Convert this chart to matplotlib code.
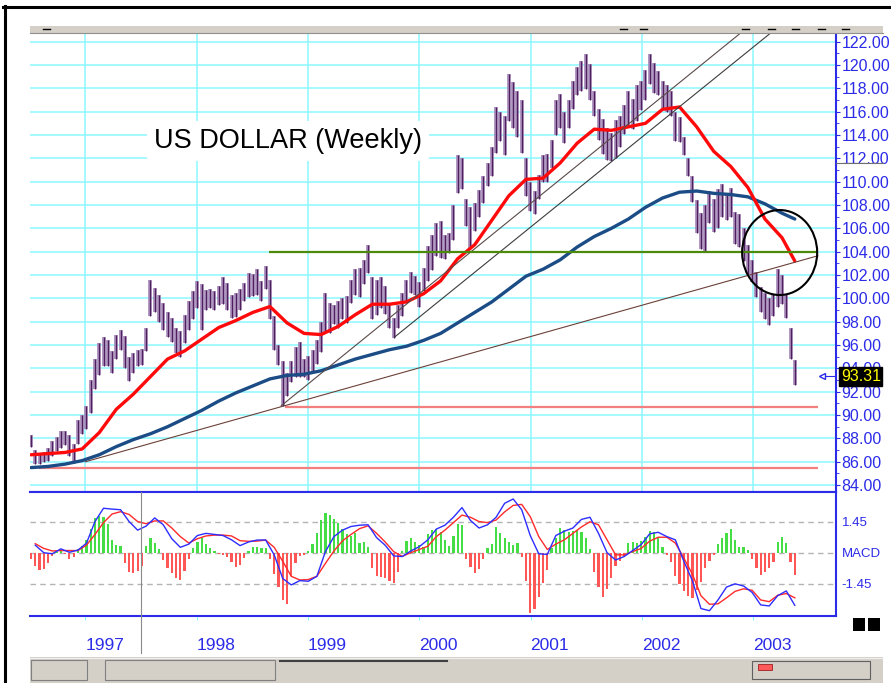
import numpy as np
import matplotlib
matplotlib.use('Agg')
import matplotlib.pyplot as plt
from matplotlib.patches import Ellipse, Rectangle
from matplotlib import font_manager

# fonts: narrow Arial-like for the axis text if present
names = {f.name for f in font_manager.fontManager.ttflist}
narrow = 'Liberation Sans Narrow' if 'Liberation Sans Narrow' in names else 'Liberation Sans'

# ---- data (weekly US dollar index, sampled every 2 weeks) ----
bar_start = 1996.512
bar_step = 14 / 365.25

high = [88.3, 87.0, 86.7, 86.8, 87.2, 87.8, 88.1, 88.6, 88.6, 88.3,
        87.5, 89.6, 90.0, 90.8, 93.0, 94.8, 96.2, 96.7, 96.4, 95.5,
        96.9, 97.3, 96.8, 95.0, 95.3, 95.6, 95.7, 97.5, 101.6, 100.9,
        100.3, 99.6, 98.8, 98.3, 97.5, 97.2, 98.6, 99.8, 100.6, 101.5,
        101.2, 100.7, 100.8, 100.6, 101.1, 101.8, 101.3, 100.3, 100.5, 100.8,
        101.3, 102.2, 102.1, 102.5, 101.5, 102.8, 101.6, 98.5, 96.0, 94.6,
        93.6, 94.6, 95.8, 96.3, 94.8, 95.1, 95.6, 96.4, 98.0, 100.5,
        99.6, 99.4, 99.8, 100.0, 100.2, 101.6, 102.5, 102.6, 103.3, 104.6,
        101.8, 101.6, 101.8, 101.1, 99.6, 98.3, 99.4, 100.5, 101.6, 102.3,
        101.9, 101.4, 102.6, 104.5, 105.4, 106.5, 106.6, 105.4, 105.6, 108.0,
        112.3, 112.0, 108.5, 107.8, 108.2, 109.3, 110.5, 111.6, 113.0, 116.4,
        116.0, 115.6, 119.2, 118.5, 117.8, 117.0, 112.0, 110.0, 109.2, 110.6,
        112.3, 112.4, 113.6, 117.0, 117.5, 116.0, 117.0, 118.6, 119.8, 120.3,
        120.9, 120.1, 117.8, 116.2, 115.4, 114.6, 114.2, 115.3, 115.6, 116.6,
        117.8, 117.1, 118.3, 118.6, 119.6, 120.9, 120.2, 119.5, 118.6, 118.3,
        117.8, 116.0, 115.5, 113.8, 112.0, 110.5, 108.4, 107.3, 108.0, 109.2,
        108.5, 109.4, 109.8, 109.0, 109.5, 107.4, 107.2, 106.0, 104.6, 103.3,
        102.3, 101.0, 100.5, 100.0, 100.4, 102.5, 102.0, 100.4, 97.5, 94.7]

low = [87.3, 85.8, 85.8, 86.0, 86.1, 86.5, 86.9, 87.2, 87.4, 86.5,
       85.9, 87.5, 88.4, 88.8, 90.2, 92.2, 93.4, 94.2, 94.2, 93.6,
       94.8, 95.6, 94.0, 92.9, 93.6, 94.2, 94.3, 95.5, 98.5, 98.8,
       98.0, 97.3, 96.7, 96.3, 95.3, 95.0, 96.2, 97.3, 98.2, 99.2,
       97.3, 99.0, 99.2, 99.0, 99.4, 99.5, 99.0, 98.3, 98.4, 99.0,
       99.8, 100.1, 100.2, 100.3, 99.8, 100.8, 98.2, 95.6, 94.3, 90.8,
       91.6, 92.8, 93.3, 93.3, 93.3, 93.0, 93.6, 94.4, 95.4, 97.0,
       97.0, 97.8, 97.5, 98.2, 97.9, 99.6, 100.3, 100.1, 101.2, 102.2,
       98.2, 98.6, 99.2, 98.7, 97.5, 96.6, 97.5, 98.5, 99.6, 100.5,
       100.3, 99.3, 100.6, 101.5, 102.4, 103.6, 103.5, 103.4, 103.9, 105.0,
       109.0, 109.4, 106.2, 104.3, 105.8, 107.0, 108.2, 109.6, 110.5, 112.5,
       113.5, 112.3, 115.2, 114.6, 113.8, 112.5, 108.8, 107.5, 107.2, 108.5,
       110.0, 110.0, 111.2, 114.0, 114.6, 113.3, 114.6, 116.2, 117.4, 117.8,
       117.9, 117.0, 115.6, 113.6, 112.4, 111.9, 111.8, 112.0, 113.0, 114.1,
       114.8, 114.5, 115.2, 116.1, 117.0, 118.4, 117.6, 117.4, 116.3, 116.0,
       115.6, 113.5, 113.4, 112.3, 110.5, 108.3, 105.6, 104.2, 104.0, 106.5,
       105.7, 106.0, 107.0, 106.7, 107.0, 104.7, 104.4, 103.2, 102.1, 101.4,
       100.1, 98.8, 98.2, 97.7, 98.5, 99.3, 99.5, 98.3, 94.8, 92.6]

last_close = 93.31

# moving averages, read every 8 weeks (plus the last bar)
ma_red = [86.6, 86.7, 86.8, 87.1, 88.5, 90.5, 91.8, 93.3, 94.8, 95.5,
          96.5, 97.5, 98.1, 98.8, 99.3, 97.9, 97.0, 96.9, 97.6, 98.6,
          99.5, 99.5, 99.7, 100.4, 101.5, 103.4, 104.6, 106.7, 108.8, 110.2,
          110.3, 111.6, 113.3, 114.5, 114.4, 114.7, 115.0, 116.2, 116.4, 114.7,
          112.6, 111.3, 109.5, 106.8, 105.2, 103.2]
ma_blue = [85.5, 85.6, 85.8, 86.1, 86.6, 87.3, 87.9, 88.4, 89.0, 89.7,
           90.4, 91.2, 91.9, 92.5, 93.1, 93.4, 93.5, 93.8, 94.3, 94.8,
           95.2, 95.6, 95.9, 96.4, 97.0, 97.9, 98.8, 99.7, 100.8, 101.9,
           102.5, 103.3, 104.4, 105.3, 106.0, 106.8, 107.8, 108.6, 109.1, 109.2,
           109.0, 108.9, 108.7, 108.1, 107.3, 106.8]

# MACD panel
hist = [-0.3, -0.6, -0.8, -0.75, -0.5, -0.15, 0.05, 0.1, -0.05, -0.3,
        -0.2, 0.15, 0.3, 0.6, 1.1, 1.6, 1.7, 1.66, 1.35, 0.6,
        0.36, 0.3, -0.5, -0.88, -0.95, -0.85, -0.6, 0.3, 0.7, 0.45,
        0.15, -0.35, -0.7, -0.95, -1.2, -1.25, -0.85, -0.3, 0.2, 0.5,
        0.7, 0.4, 0.2, 0.08, -0.05, -0.1, -0.2, -0.45, -0.65, -0.55,
        -0.25, 0.1, 0.28, 0.25, 0.2, 0.2, -0.3, -1.0, -1.6, -2.2,
        -2.4, -1.1, -0.5, -0.15, -0.1, 0.1, 0.4, 0.9, 1.5, 1.85,
        1.75, 1.58, 1.37, 1.1, 0.85, 0.8, 0.9, 0.45, 0.5, 0.28,
        -0.7, -1.1, -1.15, -1.2, -1.3, -1.43, -0.9, 0.1, 0.55, 0.7,
        0.5, 0.35, 0.28, 0.85, 1.05, 1.12, 0.95, 0.6, 0.3, 0.8,
        1.35, 1.29, -0.3, -0.65, -0.95, -0.75, -0.3, 0.2, 0.4, 1.2,
        0.9, 0.7, 0.52, 0.38, 0.45, -0.19, -1.3, -2.8, -2.6, -2.05,
        -1.4, -0.8, 0.2, 0.7, 1.15, 1.05, 0.98, 1.02, 1.05, 0.98,
        0.7, 0.15, -0.9, -1.6, -2.04, -1.7, -1.2, -0.62, -0.4, -0.2,
        0.44, 0.5, 0.45, 0.55, 0.75, 1.0, 0.95, 0.67, 0.25, -0.1,
        -0.45, -1.1, -1.45, -1.8, -2.0, -2.1, -1.75, -1.35, -0.72, -0.38,
        -0.1, 0.42, 0.7, 0.93, 1.09, 0.6, 0.25, 0.28, 0.13, -0.3,
        -0.7, -1.04, -0.9, -0.7, -0.41, 0.5, 0.72, 0.45, -0.45, -1.04]

macd = [0.35, 0.0, -0.05, 0.18, 0.02, 0.12, 0.44, 1.45, 2.07, 2.03,
        2.0, 1.45, 1.05, 1.24, 1.62, 1.3, 0.65, 0.25, 0.4, 0.8,
        0.9, 0.85, 0.8, 0.6, 0.33, 0.5, 0.59, 0.59, -0.1, -1.2,
        -1.5, -1.3, -1.33, -1.1, 0.05, 0.75, 1.05, 1.22, 1.28, 1.3,
        0.7, 0.35, -0.15, -0.18, 0.08, 0.28, 0.6, 1.1, 1.28, 1.65,
        2.1, 1.5, 1.15, 1.3, 1.65, 2.3, 2.5, 2.0, 0.8, -0.05,
        -0.08, 0.8, 1.0, 1.15, 1.55, 1.65, 0.9, 0.0, -0.34, -0.18,
        0.1, 0.38, 0.88, 0.95, 0.75, 0.6, -0.4, -1.3, -2.6, -2.7,
        -2.2, -1.6, -1.45, -1.55, -1.85, -2.43, -2.48, -2.0, -1.78, -2.45]
signal = [0.42, 0.2, 0.08, 0.1, 0.1, 0.1, 0.35, 0.85, 1.4, 1.8,
          1.91, 1.78, 1.45, 1.35, 1.48, 1.48, 1.15, 0.75, 0.45, 0.65,
          0.78, 0.82, 0.82, 0.78, 0.56, 0.53, 0.54, 0.59, 0.25, -0.4,
          -1.1, -1.27, -1.25, -1.1, -0.5, 0.08, 0.55, 0.85, 1.12, 1.25,
          0.9, 0.5, 0.05, -0.17, 0.0, 0.15, 0.3, 0.75, 1.05, 1.4,
          1.75, 1.65, 1.45, 1.4, 1.52, 1.9, 2.2, 2.25, 1.68, 0.75,
          0.15, 0.4, 0.6, 0.9, 1.2, 1.44, 1.3, 0.6, -0.1, -0.1,
          0.05, 0.2, 0.54, 0.72, 0.72, 0.45, -0.25, -1.0, -2.0, -2.4,
          -2.38, -2.1, -1.8, -1.68, -1.75, -2.2, -2.28, -1.98, -1.9, -2.1]
macd_band = 1.45

years = [1997, 1998, 1999, 2000, 2001, 2002, 2003]

# drawn studies: trend lines, support levels, circle
trend_long = [(1997.0, 86.0), (2003.58, 103.65)]
trend_a = [(1998.76, 90.8), (2002.92, 123.0)]
trend_b = [(1999.78, 96.7), (2003.19, 123.0)]
level_green = (1998.653, 2003.58, 104.0)
level_mid = (1998.79, 2003.58, 90.67)
level_low = (1996.58, 2003.58, 85.5)
circle = (2003.237, 103.93, 0.674, 7.28)

title = 'US DOLLAR (Weekly)'

# ---- layout ----
W, H = 891, 683
BLUE = '#2b2be8'
CYAN = '#8cf8ff'

t = bar_start + np.arange(len(high)) * bar_step
t_ma = np.append(t[::4], t[-1])
t_macd = t[1::2]

fig = plt.figure(figsize=(W / 100, H / 100), dpi=100)
fig.patch.set_facecolor('white')

ax = fig.add_axes([30 / W, 1 - 492 / H, 806 / W, 459 / H])
axm = fig.add_axes([30 / W, 1 - 616 / H, 806 / W, 124 / H])
xlim = (1996.5033, 2003.7431)

# price panel
ax.set_xlim(xlim)
ax.set_ylim(83.41, 122.74)
ax.set_axisbelow(True)
ax.set_xticks(years)
ax.set_yticks(np.arange(84, 123, 2))
ax.set_yticks(np.arange(85, 123, 2), minor=True)
ax.set_yticklabels([f'{v:.2f}' for v in np.arange(84, 123, 2)])
ax.grid(True, which='major', color=CYAN, lw=1.1)
ax.tick_params(axis='x', length=0, labelbottom=False)
ax.tick_params(axis='y', which='both', left=False, labelleft=False, right=True,
               labelright=True, direction='out', color=BLUE, labelcolor=BLUE, pad=1)
ax.tick_params(axis='y', which='major', length=3, labelsize=11.5)
ax.tick_params(axis='y', which='minor', length=2)
for lab in ax.get_yticklabels():
    lab.set_family(narrow)
for s in ['left', 'top']:
    ax.spines[s].set_visible(False)
for s in ['right', 'bottom']:
    ax.spines[s].set_color(BLUE)
    ax.spines[s].set_linewidth(1.5)

ax.hlines(level_low[2], level_low[0], level_low[1], color='#f47f7f', lw=1.6, zorder=2)
ax.hlines(level_mid[2], level_mid[0], level_mid[1], color='#f47f7f', lw=1.6, zorder=2)

ax.vlines(t, low, high, color='#a88cbb', lw=2.7, zorder=3)
ax.vlines(t, low, high, color='#4e1f5c', lw=0.9, zorder=3.1)

ax.plot(t_ma, ma_blue, color='#1b4c86', lw=2.4, zorder=4, solid_capstyle='round')
ax.plot(t_ma, ma_red, color='#ff0a0a', lw=2.4, zorder=4.1, solid_capstyle='round')

for seg, c in [(trend_long, '#6b4038'), (trend_a, '#5a4a48'), (trend_b, '#3c3c3c')]:
    ax.plot([seg[0][0], seg[1][0]], [seg[0][1], seg[1][1]], color=c, lw=0.8, zorder=5)
ax.hlines(level_green[2], level_green[0], level_green[1], color='#4c8a0c', lw=1.6, zorder=5)
ax.add_patch(Ellipse(circle[:2], circle[2], circle[3], fill=False, ec='black', lw=1.5, zorder=6))

ax.text(1998.82, 113.5, title, ha='center', va='center', fontsize=19.5,
        family='Liberation Sans', color='black', zorder=6,
        bbox=dict(facecolor='white', edgecolor='none', pad=5))

# last price marker and box (covers the 94.00 label, as on the screen)
ax.plot([2003.615], [last_close], marker='<', ms=5, mfc='white', mec=BLUE, mew=1, zorder=7)
ax.plot([2003.64, 2003.74], [last_close, last_close], color=BLUE, lw=0.8, zorder=7)
ax.text(1.006, last_close, f'{last_close:.2f}', transform=ax.get_yaxis_transform(),
        ha='left', va='center', fontsize=11.5, family=narrow, color='#ffff00', zorder=8,
        clip_on=False, bbox=dict(facecolor='black', edgecolor='black', pad=1.2))

# MACD panel
axm.set_xlim(xlim)
axm.set_ylim(-2.947, 2.826)
cols = ['#45dd45' if v >= 0 else '#ff5656' for v in hist]
axm.bar(t, hist, width=0.02, color=cols, zorder=2)
for v in (macd_band, 0, -macd_band):
    axm.axhline(v, color='#b4b4b4', lw=1, ls=(0, (4, 3)), zorder=1)
axm.plot(t_macd, signal, color='#ff2a2a', lw=1.0, zorder=3)
axm.plot(t_macd, macd, color='#2d2dff', lw=1.0, zorder=3.1)

axm.set_xticks(years)
axm.set_xticklabels([str(y) for y in years])
axm.tick_params(axis='x', length=3, color=CYAN, labelcolor=BLUE, labelsize=12.5, pad=13)
for lab in axm.get_xticklabels():
    lab.set_ha('left')
    lab.set_family(narrow)
axm.set_yticks([macd_band, 0, -macd_band])
axm.set_yticklabels([f'{macd_band:.2f}', 'MACD', f'-{macd_band:.2f}'])
axm.tick_params(axis='y', left=False, labelleft=False, right=True, labelright=True,
                length=0, labelcolor=BLUE, labelsize=9.5, pad=4)
for lab in axm.get_yticklabels():
    lab.set_family(narrow)
axm.spines['left'].set_visible(False)
for s in ['right', 'top', 'bottom']:
    axm.spines[s].set_color(BLUE)
    axm.spines[s].set_linewidth(1.5)

# window chrome (pixel overlay)
ov = fig.add_axes([0, 0, 1, 1], zorder=10)
ov.set_xlim(0, W)
ov.set_ylim(H, 0)
ov.axis('off')
ov.patch.set_alpha(0)
ov.plot([3, W], [6.5, 6.5], color='black', lw=2.2)
ov.plot([4.5, 4.5], [6, H], color='black', lw=2.2)
ov.add_patch(Rectangle((30, 26), 853, 6.5, facecolor='#d4d0c8', edgecolor='none'))
ov.plot([30, 883], [32.5, 32.5], color='#909090', lw=0.8)
for x0 in [43, 620, 640, 742, 768, 792, 818, 842]:
    ov.plot([x0, x0 + 7], [28.5, 28.5], color='black', lw=1)
ov.plot([140.5, 140.5], [492, 653], color='#8a8a8a', lw=0.8)
ov.plot([836, 883], [163, 163], color='#707070', lw=0.8)
ov.add_patch(Rectangle((853, 618), 12, 13, facecolor='black'))
ov.add_patch(Rectangle((868, 618), 12, 13, facecolor='black'))
ov.add_patch(Rectangle((30, 657), 853, 26, facecolor='#d4d0c8', edgecolor='none'))
ov.plot([30, 883], [657.5, 657.5], color='#f0f0f0', lw=0.8)
ov.add_patch(Rectangle((31, 660), 56, 20, facecolor='#d4d0c8', edgecolor='#808080', lw=0.8))
ov.add_patch(Rectangle((105, 660), 170, 20, facecolor='#d4d0c8', edgecolor='#808080', lw=0.8))
ov.plot([280, 447], [661, 661], color='#404040', lw=1.5)
ov.add_patch(Rectangle((752, 661), 118, 18, facecolor='#d4d0c8', edgecolor='#606060', lw=0.8))
ov.add_patch(Rectangle((758, 664), 14, 6, facecolor='#ff5a5a', edgecolor='#a02020', lw=0.6))

fig.savefig('out.png', dpi=100)
